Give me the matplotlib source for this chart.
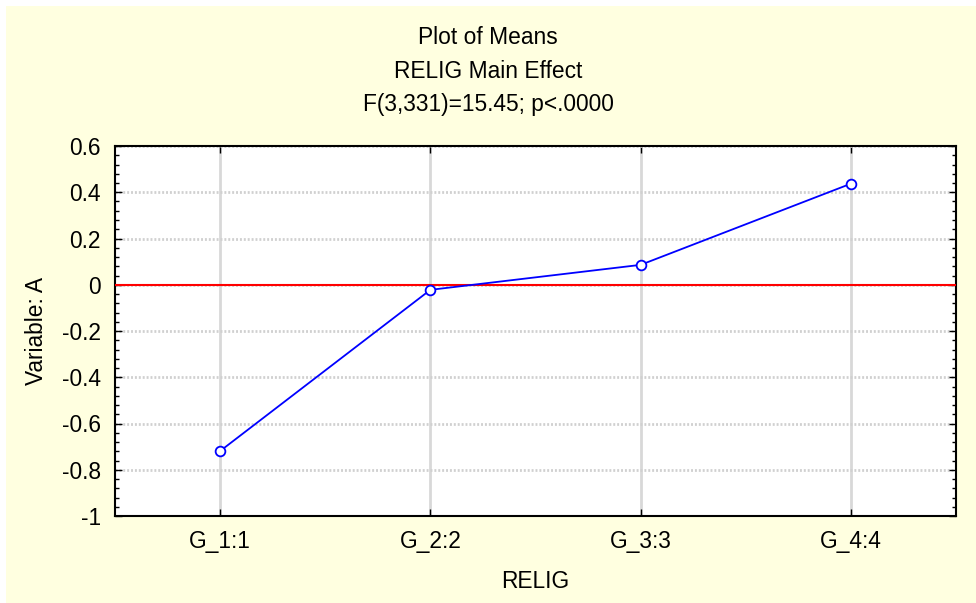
import numpy as np
import matplotlib.pyplot as plt
from matplotlib.patches import Rectangle
from matplotlib.ticker import MultipleLocator

plt.switch_backend('Agg')
plt.rcParams['font.family'] = ['Liberation Sans', 'DejaVu Sans']

groups = ["G_1:1", "G_2:2", "G_3:3", "G_4:4"]
means = [-0.719, -0.022, 0.086, 0.437]
y_ticks = [-1, -0.8, -0.6, -0.4, -0.2, 0, 0.2, 0.4, 0.6]
y_labels = ['-1', '-0.8', '-0.6', '-0.4', '-0.2', '0', '0.2', '0.4', '0.6']
title_lines = ["Plot of Means", "RELIG Main Effect", "F(3,331)=15.45; p<.0000"]

FS = 16.4

fig = plt.figure(figsize=(9.76, 6.03), dpi=100)
fig.patch.set_facecolor('white')
# yellow panel, leaving a thin white margin top and left
fig.patches.append(Rectangle((6 / 976, 0), 1, 1 - 6 / 603, transform=fig.transFigure,
                             facecolor='#FFFFE0', edgecolor='none', zorder=-10))

ax = fig.add_axes([115 / 976, 87 / 603, 841 / 976, 370 / 603])
ax.set_zorder(1)
ax.set_facecolor('white')

x = np.arange(1, len(groups) + 1)
ax.plot(x, means, color='blue', linewidth=1.3, marker='o', markersize=7,
        markerfacecolor='white', markeredgecolor='blue', markeredgewidth=1.3, zorder=4)
ax.axhline(0, color='red', linewidth=1.5, zorder=3)

ax.set_xlim(0.5, len(groups) + 0.5)
ax.set_ylim(-1, 0.6)
ax.set_xticks(x)
ax.set_xticklabels(groups)
ax.set_yticks(y_ticks)
ax.set_yticklabels(y_labels)
ax.yaxis.set_minor_locator(MultipleLocator(0.04))

ax.tick_params(axis='both', which='both', direction='in', top=True, right=True,
               labelsize=FS, colors='black')
ax.tick_params(axis='both', which='major', length=5, width=1)
ax.tick_params(axis='y', which='minor', length=3, width=1)
ax.tick_params(axis='y', which='major', pad=10)
ax.tick_params(axis='x', which='major', pad=10)

ax.grid(axis='x', color='#D8D8D8', linestyle='-', linewidth=2, zorder=1)
ax.grid(axis='y', which='major', color='#D0D0D0', linestyle=(0, (0.7, 0.7)), linewidth=2, zorder=1)
ax.set_axisbelow(True)
for s in ax.spines.values():
    s.set_linewidth(1.5)
    s.set_color('black')

ax.set_xlabel("RELIG", fontsize=FS, labelpad=12)
ax.set_ylabel("Variable: A", fontsize=FS, labelpad=10)

for i, line in enumerate(title_lines):
    fig.text(0.5, 1 - (38 + 33 * i) / 603, line, ha='center', va='center', fontsize=FS)

fig.savefig('out.png', dpi=100, facecolor=fig.get_facecolor())
